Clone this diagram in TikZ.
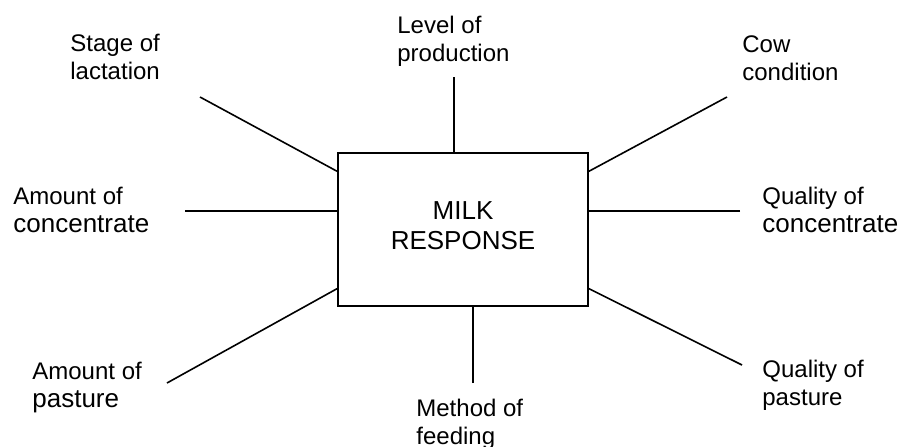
\documentclass[tikz,border=0pt]{standalone}
\usepackage{fontspec}
\setmainfont{Liberation Sans}
\usetikzlibrary{calc}

\newcommand{\bigword}[1]{{\fontsize{13}{14}\selectfont #1}}

\begin{document}
\begin{tikzpicture}[
  x=0.5pt, y=-0.5pt,
  factor/.style={anchor=north west, inner sep=0pt, align=left, font=\fontsize{12}{14}\selectfont},
  spoke/.style={line width=0.8pt},
]

\useasboundingbox (0,0) rectangle (901,446);

\node[draw, line width=0.9pt, minimum width=125pt, minimum height=76.5pt, inner sep=0pt,
  text depth=4pt, align=center, font=\fontsize{13}{15}\selectfont] (milk) at (463,229.5) {MILK\\RESPONSE};

\node[factor] (stage) at (70,34) {Stage of\\lactation};
\node[factor] (level) at (397,16) {Level of\\production};
\node[factor] (cow) at (742,35) {Cow\\condition};
\node[factor] (amountconc) at (13,187) {Amount of\\\bigword{concentrate}};
\node[factor] (qualconc) at (762,187) {Quality of\\\bigword{concentrate}};
\node[factor] (amountpast) at (32,362) {Amount of\\\bigword{pasture}};
\node[factor] (method) at (416,399) {Method of\\feeding};
\node[factor] (qualpast) at (762,360) {Quality of\\pasture};

% free ends of the spokes
\coordinate (stage-end) at (200,97);
\coordinate (level-end) at (454,77);
\coordinate (cow-end) at (727,97);
\coordinate (amountconc-end) at (185,211);
\coordinate (qualconc-end) at (740,211);
\coordinate (amountpast-end) at (167,383);
\coordinate (method-end) at (473,383);
\coordinate (qualpast-end) at (742,365);

% where the spokes meet the box
\coordinate (milk-ul) at ($(milk.north west)!.124!(milk.south west)$);
\coordinate (milk-ll) at ($(milk.north west)!.882!(milk.south west)$);
\coordinate (milk-ur) at ($(milk.north east)!.124!(milk.south east)$);
\coordinate (milk-lr) at ($(milk.north east)!.882!(milk.south east)$);
\coordinate (milk-t) at (milk.north -| level-end);
\coordinate (milk-b) at (milk.south -| method-end);
\coordinate (milk-l) at (milk.west |- amountconc-end);
\coordinate (milk-r) at (milk.east |- qualconc-end);

\foreach \from/\to in {stage-end/milk-ul, level-end/milk-t, cow-end/milk-ur,
  amountconc-end/milk-l, qualconc-end/milk-r, amountpast-end/milk-ll,
  method-end/milk-b, qualpast-end/milk-lr}
  \draw[spoke] (\from) -- (\to);
\end{tikzpicture}
\end{document}
